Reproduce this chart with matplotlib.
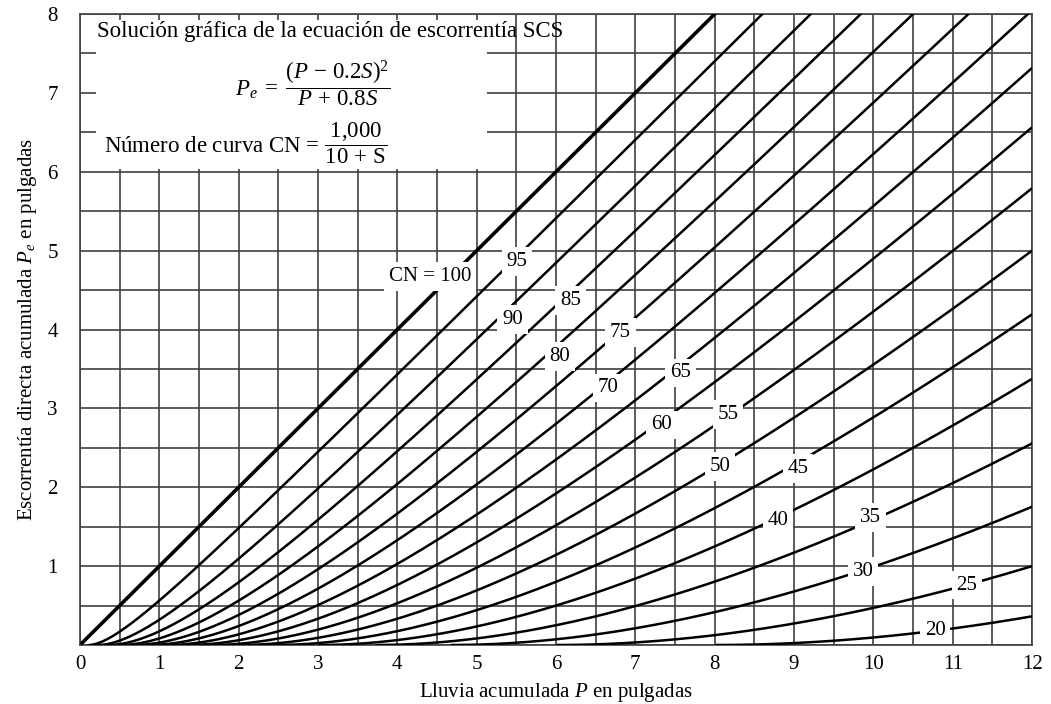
import matplotlib
matplotlib.use("Agg")
import matplotlib.pyplot as plt
import numpy as np
from matplotlib.patches import Rectangle

# curve numbers shown on the chart
curve_numbers = [100, 95, 90, 85, 80, 75, 70, 65, 60, 55, 50, 45, 40, 35, 30, 25, 20]
label_texts = ["CN = 100", "95", "90", "85", "80", "75", "70", "65", "60",
               "55", "50", "45", "40", "35", "30", "25", "20"]
x_ticks = list(range(0, 13))
y_ticks = list(range(1, 9))

# where each curve label sits (data coords)
label_x = [4.41, 5.51, 5.45, 6.18, 6.05, 6.81, 6.66, 7.57, 7.33, 8.17, 8.07, 9.05, 8.80, 9.96, 9.87, 11.18, 10.78]
label_y = [4.67, 4.86, 4.13, 4.37, 3.66, 3.96, 3.26, 3.45, 2.79, 2.92, 2.26, 2.24, 1.58, 1.62, 0.93, 0.76, 0.19]


def runoff(P, cn):
    # SCS equation printed on the chart itself
    S = 1000.0 / cn - 10.0
    Pe = (P - 0.2 * S) ** 2 / (P + 0.8 * S)
    return np.where(P >= 0.2 * S, Pe, np.nan)


def main():
    plt.rcParams["font.family"] = ["Liberation Serif", "DejaVu Serif"]
    plt.rcParams["mathtext.fontset"] = "custom"
    plt.rcParams["mathtext.rm"] = "Liberation Serif"
    plt.rcParams["mathtext.it"] = "Liberation Serif:italic"

    fig = plt.figure(figsize=(10.51, 7.04), dpi=100)
    ax = fig.add_axes([0.0761, 0.0838, 0.9059, 0.8963])

    P = np.linspace(0, 12, 1200)
    for cn in curve_numbers:
        lw = 2.6 if cn == 100 else 1.8
        ax.plot(P, runoff(P, cn), color="black", lw=lw, zorder=3, solid_capstyle="butt")

    for txt, x, y in zip(label_texts, label_x, label_y):
        ax.text(x, y, txt, fontsize=15, ha="center", va="center", zorder=5,
                bbox=dict(facecolor="white", edgecolor="none", pad=3.5))

    ax.set_xlim(0, 12)
    ax.set_ylim(0, 8)
    ax.set_xticks(x_ticks)
    ax.set_yticks(y_ticks)
    ax.set_xticks(np.arange(0, 12.01, 0.5), minor=True)
    ax.set_yticks(np.arange(0, 8.01, 0.5), minor=True)
    ax.grid(which="both", color="#404040", lw=1.2, zorder=1)
    ax.set_axisbelow(True)
    ax.tick_params(which="both", length=0)
    ax.tick_params(axis="x", labelsize=15, pad=7)
    ax.tick_params(axis="y", labelsize=15, pad=16)
    for sp in ax.spines.values():
        sp.set_color("#404040")
        sp.set_linewidth(1.2)

    # white panel holding the equations
    ax.add_patch(Rectangle((0.2, 6.03), 4.93, 1.9, facecolor="white", edgecolor="none", zorder=2))
    ax.text(0.22, 7.78, "Solución gráfica de la ecuación de escorrentía SCS", fontsize=16.5,
            ha="left", va="center", zorder=4)
    ax.text(1.95, 7.12, r"$P_e\;=\;\dfrac{(P\,-\,0.2S)^2}{P\,+\,0.8S}$", fontsize=16.5,
            ha="left", va="center", zorder=4)
    ax.text(0.3, 6.36, r"Número de curva CN = $\dfrac{1{,}000}{10\,+\,\mathrm{S}}$", fontsize=16.5,
            ha="left", va="center", zorder=4)

    ax.set_xlabel(r"Lluvia acumulada $P$ en pulgadas", fontsize=15, labelpad=5)
    ax.set_ylabel(r"Escorrentía directa acumulada $P_e$ en pulgadas", fontsize=15, labelpad=6)

    fig.savefig("out.png", dpi=100)


if __name__ == "__main__":
    main()
